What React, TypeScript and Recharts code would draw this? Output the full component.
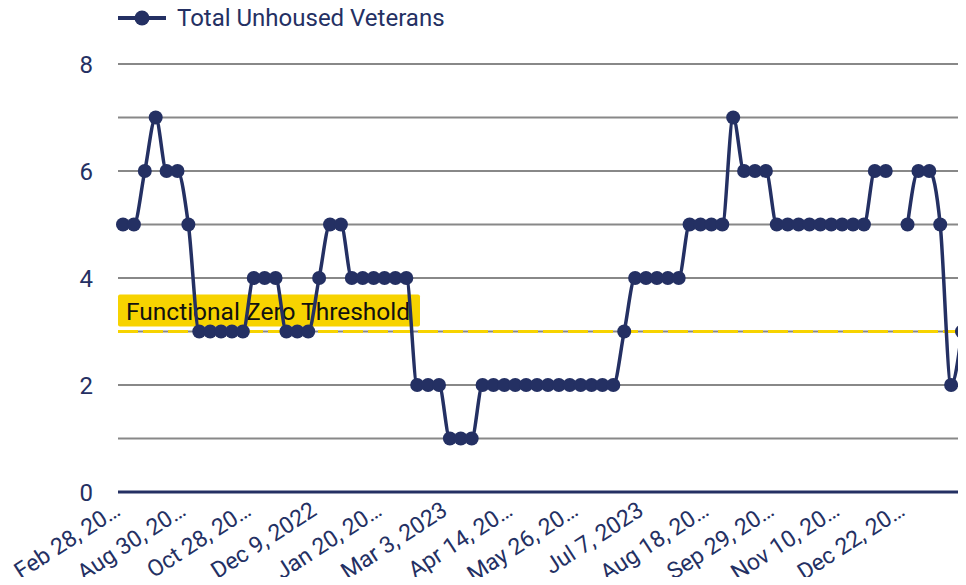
import { LineChart, Line, XAxis, YAxis, CartesianGrid, ReferenceLine } from "recharts";

const NAVY = "#243063";
const YELLOW = "#f7d300";

const dates = [
  "Feb 28, 2022", "Mar 31, 2022", "Apr 29, 2022", "May 31, 2022", "Jun 30, 2022", "Jul 29, 2022",
  "Aug 30, 2022", "Sep 23, 2022", "Sep 30, 2022", "Oct 7, 2022", "Oct 14, 2022", "Oct 21, 2022",
  "Oct 28, 2022", "Nov 4, 2022", "Nov 11, 2022", "Nov 18, 2022", "Nov 25, 2022", "Dec 2, 2022",
  "Dec 9, 2022", "Dec 16, 2022", "Dec 23, 2022", "Dec 30, 2022", "Jan 6, 2023", "Jan 13, 2023",
  "Jan 20, 2023", "Jan 27, 2023", "Feb 3, 2023", "Feb 10, 2023", "Feb 17, 2023", "Feb 24, 2023",
  "Mar 3, 2023", "Mar 10, 2023", "Mar 17, 2023", "Mar 24, 2023", "Mar 31, 2023", "Apr 7, 2023",
  "Apr 14, 2023", "Apr 21, 2023", "Apr 28, 2023", "May 5, 2023", "May 12, 2023", "May 19, 2023",
  "May 26, 2023", "Jun 2, 2023", "Jun 9, 2023", "Jun 16, 2023", "Jun 23, 2023", "Jun 30, 2023",
  "Jul 7, 2023", "Jul 14, 2023", "Jul 21, 2023", "Jul 28, 2023", "Aug 4, 2023", "Aug 11, 2023",
  "Aug 18, 2023", "Aug 25, 2023", "Sep 1, 2023", "Sep 8, 2023", "Sep 15, 2023", "Sep 22, 2023",
  "Sep 29, 2023", "Oct 6, 2023", "Oct 13, 2023", "Oct 20, 2023", "Oct 27, 2023", "Nov 3, 2023",
  "Nov 10, 2023", "Nov 17, 2023", "Nov 24, 2023", "Dec 1, 2023", "Dec 8, 2023", "Dec 15, 2023",
  "Dec 22, 2023", "Dec 29, 2023", "Jan 5, 2024", "Jan 12, 2024", "Jan 19, 2024", "Jan 26, 2024",
];

const veterans: (number | null)[] = [
  5, 5, 6, 7, 6, 6, 5, 3, 3, 3, 3, 3,
  4, 4, 4, 3, 3, 3, 4, 5, 5, 4, 4, 4,
  4, 4, 4, 2, 2, 2, 1, 1, 1, 2, 2, 2,
  2, 2, 2, 2, 2, 2, 2, 2, 2, 2, 3, 4,
  4, 4, 4, 4, 5, 5, 5, 5, 7, 6, 6, 6,
  5, 5, 5, 5, 5, 5, 5, 5, 5, 6, 6, null,
  5, 6, 6, 5, 2, 3,
];

const yTicks = [0, 1, 2, 3, 4, 5, 6, 7, 8];
const threshold = 3;
const thresholdLabel = "Functional Zero Threshold";
const seriesName = "Total Unhoused Veterans";

const data = dates.map((d, i) => ({ date: d, veterans: veterans[i] }));

const FONT = "Roboto, 'Noto Sans', sans-serif";

const shortLabel = (v: string) => (v.length > 11 ? v.slice(0, 10) + "…" : v);

const XTick = (props: any) => {
  const { x, y, payload } = props;
  const bx = x - 1;
  const by = y + 22;
  return (
    <text
      x={bx}
      y={by}
      transform={`rotate(-33, ${bx}, ${by})`}
      textAnchor="end"
      fontSize={23}
      fontFamily={FONT}
      fill={NAVY}
    >
      {shortLabel(payload.value)}
    </text>
  );
};

const ThresholdLabel = (props: any) => {
  const { viewBox } = props;
  const x = viewBox.x;
  const y = viewBox.y;
  return (
    <g>
      <rect x={x} y={y - 37} width={302} height={32} rx={2} fill={YELLOW} />
      <text x={x + 8} y={y - 12} fontSize={24.5} fontFamily={FONT} fill="#111">
        {thresholdLabel}
      </text>
    </g>
  );
};

export default function App() {
  return (
    <div style={{ margin: -8, position: "relative", width: 966, height: 585, background: "#fff" }}>
      <div
        style={{
          position: "absolute",
          left: 118,
          top: 4,
          height: 28,
          display: "flex",
          alignItems: "center",
          fontFamily: FONT,
          fontSize: 24,
          color: NAVY,
        }}
      >
        <svg width={48} height={20}>
          <line x1={0} y1={10} x2={48} y2={10} stroke={NAVY} strokeWidth={4} />
          <circle cx={24} cy={10} r={7.5} fill={NAVY} />
        </svg>
        <span style={{ marginLeft: 11 }}>{seriesName}</span>
      </div>
      <LineChart width={966} height={585} data={data} margin={{ top: 64, right: 0, left: 0, bottom: 0 }}>
        <CartesianGrid vertical={false} stroke="#888" strokeWidth={2} />
        <XAxis
          dataKey="date"
          interval={5}
          height={93}
          padding={{ left: 5, right: 4 }}
          tickLine={false}
          tickSize={0}
          tickMargin={0}
          axisLine={{ stroke: NAVY, strokeWidth: 3 }}
          tick={<XTick />}
        />
        <YAxis
          domain={[0, 8]}
          ticks={yTicks}
          interval={0}
          width={118}
          axisLine={false}
          tickLine={false}
          tickSize={0}
          tickMargin={25}
          tickFormatter={(v: number) => (v % 2 === 0 ? String(v) : "")}
          tick={{ fill: NAVY, fontSize: 24, fontFamily: FONT }}
        />
        <ReferenceLine
          y={threshold}
          stroke={YELLOW}
          strokeWidth={3}
          strokeDasharray="20 5"
          label={<ThresholdLabel />}
        />
        <Line
          type="monotone"
          dataKey="veterans"
          name={seriesName}
          stroke={NAVY}
          strokeWidth={3.5}
          dot={{ r: 7, fill: NAVY, stroke: NAVY, strokeWidth: 0 }}
          activeDot={false}
          connectNulls={false}
          isAnimationActive={false}
        />
      </LineChart>
    </div>
  );
}
